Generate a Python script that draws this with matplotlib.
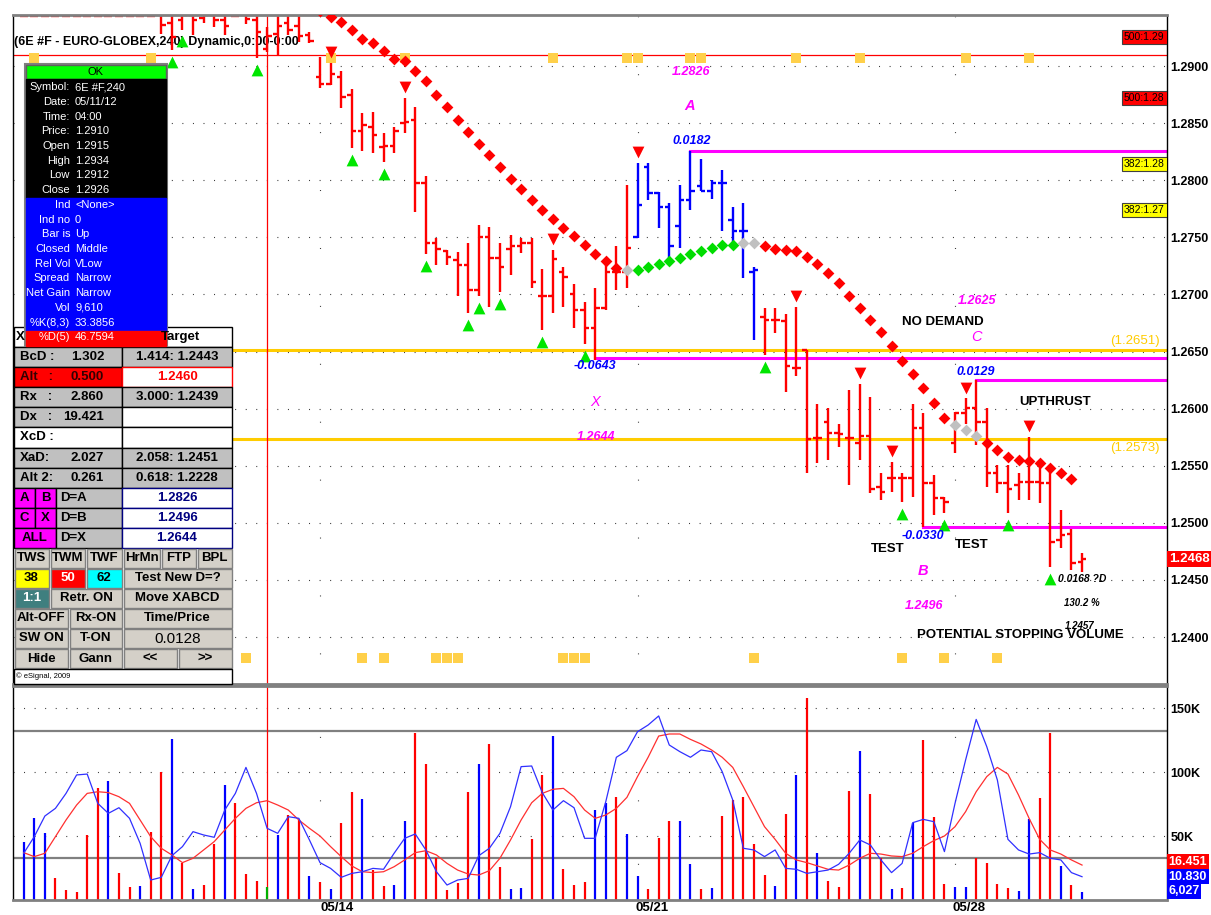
import numpy as np
import matplotlib
matplotlib.use("Agg")
import matplotlib.pyplot as plt
from matplotlib.patches import Rectangle

plt.rcParams['font.family'] = ['Liberation Sans', 'DejaVu Sans']
plt.rcParams['lines.scale_dashes'] = False

# ---------------- data (6E #F, 240 min bars) ----------------
opens = [
    1.2972, 1.2975, 1.2970, 1.2968, 1.2966, 1.2969, 1.2972, 1.2965, 1.2960, 1.2963,
    1.2966, 1.2964, 1.2962, 1.2950, 1.2938, 1.2940, 1.2945, 1.2942, 1.2945, 1.2940,
    1.2960, 1.2950, 1.2940, 1.2915, 1.2928, 1.2938, 1.2935, 1.2927, 1.2890, 1.2884,
    1.2890, 1.2875, 1.2843, 1.2847, 1.2829, 1.2830, 1.2850, 1.2853, 1.2798, 1.2745,
    1.2738, 1.2730, 1.2726, 1.2704, 1.2750, 1.2732, 1.2740, 1.2742, 1.2745, 1.2699,
    1.2699, 1.2720, 1.2700, 1.2686, 1.2671, 1.2688, 1.2720, 1.2720, 1.2750, 1.2812,
    1.2789, 1.2777, 1.2760, 1.2783, 1.2795, 1.2791, 1.2798, 1.2765, 1.2756, 1.2720,
    1.2680, 1.2678, 1.2677, 1.2636, 1.2651, 1.2574, 1.2588, 1.2579, 1.2574, 1.2570,
    1.2576, 1.2531, 1.2539, 1.2539, 1.2539, 1.2583, 1.2535, 1.2522, 1.2570, 1.2596,
    1.2601, 1.2588, 1.2544, 1.2535, 1.2533, 1.2536, 1.2536, 1.2535, 1.2485, 1.2490,
    1.2466]
highs = [
    1.2981, 1.2984, 1.2978, 1.2975, 1.2976, 1.2980, 1.2979, 1.2971, 1.2972, 1.2974,
    1.2973, 1.2970, 1.2968, 1.2962, 1.2958, 1.2955, 1.2958, 1.2960, 1.2962, 1.2960,
    1.2975, 1.2965, 1.2958, 1.2934, 1.2952, 1.2955, 1.2950, 1.2930, 1.2908, 1.2903,
    1.2896, 1.2880, 1.2859, 1.2860, 1.2841, 1.2847, 1.2872, 1.2864, 1.2804, 1.2749,
    1.2739, 1.2737, 1.2745, 1.2761, 1.2759, 1.2745, 1.2752, 1.2749, 1.2749, 1.2722,
    1.2739, 1.2724, 1.2709, 1.2693, 1.2706, 1.2727, 1.2742, 1.2796, 1.2815, 1.2815,
    1.2790, 1.2780, 1.2796, 1.2826, 1.2819, 1.2800, 1.2809, 1.2777, 1.2780, 1.2724,
    1.2688, 1.2688, 1.2683, 1.2689, 1.2651, 1.2604, 1.2601, 1.2587, 1.2616, 1.2622,
    1.2610, 1.2544, 1.2553, 1.2544, 1.2604, 1.2596, 1.2542, 1.2523, 1.2597, 1.2609,
    1.2625, 1.2601, 1.2551, 1.2551, 1.2544, 1.2575, 1.2552, 1.2549, 1.2511, 1.2495,
    1.2474]
lows = [
    1.2964, 1.2966, 1.2961, 1.2960, 1.2961, 1.2964, 1.2960, 1.2956, 1.2955, 1.2958,
    1.2957, 1.2955, 1.2952, 1.2928, 1.2914, 1.2932, 1.2927, 1.2938, 1.2934, 1.2927,
    1.2952, 1.2937, 1.2907, 1.2912, 1.2909, 1.2927, 1.2921, 1.2920, 1.2881, 1.2883,
    1.2863, 1.2828, 1.2826, 1.2824, 1.2816, 1.2824, 1.2841, 1.2772, 1.2735, 1.2726,
    1.2726, 1.2699, 1.2684, 1.2699, 1.2689, 1.2702, 1.2717, 1.2736, 1.2706, 1.2669,
    1.2684, 1.2689, 1.2671, 1.2657, 1.2643, 1.2686, 1.2704, 1.2706, 1.2749, 1.2783,
    1.2758, 1.2728, 1.2741, 1.2774, 1.2791, 1.2784, 1.2756, 1.2746, 1.2714, 1.2660,
    1.2647, 1.2666, 1.2615, 1.2629, 1.2544, 1.2552, 1.2555, 1.2566, 1.2533, 1.2555,
    1.2526, 1.2520, 1.2527, 1.2518, 1.2523, 1.2496, 1.2507, 1.2509, 1.2561, 1.2587,
    1.2568, 1.2531, 1.2526, 1.2509, 1.2520, 1.2520, 1.2517, 1.2461, 1.2478, 1.2459,
    1.2457]
closes = [
    1.2975, 1.2970, 1.2968, 1.2966, 1.2969, 1.2972, 1.2965, 1.2960, 1.2963, 1.2966,
    1.2964, 1.2962, 1.2956, 1.2936, 1.2925, 1.2945, 1.2940, 1.2945, 1.2940, 1.2935,
    1.2965, 1.2941, 1.2930, 1.2926, 1.2935, 1.2932, 1.2926, 1.2922, 1.2884, 1.2893,
    1.2873, 1.2843, 1.2848, 1.2840, 1.2830, 1.2843, 1.2851, 1.2798, 1.2745, 1.2740,
    1.2733, 1.2726, 1.2704, 1.2750, 1.2732, 1.2724, 1.2742, 1.2745, 1.2711, 1.2699,
    1.2731, 1.2715, 1.2686, 1.2671, 1.2688, 1.2720, 1.2720, 1.2741, 1.2778, 1.2789,
    1.2777, 1.2742, 1.2783, 1.2791, 1.2791, 1.2798, 1.2798, 1.2756, 1.2756, 1.2721,
    1.2678, 1.2678, 1.2637, 1.2636, 1.2573, 1.2574, 1.2579, 1.2578, 1.2574, 1.2576,
    1.2530, 1.2527, 1.2539, 1.2539, 1.2583, 1.2535, 1.2522, 1.2518, 1.2596, 1.2601,
    1.2588, 1.2544, 1.2535, 1.2530, 1.2536, 1.2536, 1.2535, 1.2483, 1.2489, 1.2465,
    1.2468]
blue_bars = list(range(58, 70))          # bars painted blue

# trailing stop dots (None = not shown), state: S = sell, B = buy, N = neutral
stop_dots = [None] * 28 + [
    1.2948, 1.2943, 1.2939, 1.2932, 1.2924, 1.2920, 1.2913, 1.2906, 1.2904, 1.2896,
    1.2887, 1.2875, 1.2864, 1.2853, 1.2842, 1.2832, 1.2822, 1.2812, 1.2801, 1.2792,
    1.2783, 1.2774, 1.2766, 1.2758, 1.2751, 1.2743, 1.2735, 1.2729, 1.2723, 1.2721,
    1.2721, 1.2724, 1.2727, 1.2729, 1.2732, 1.2735, 1.2738, 1.2741, 1.2743, 1.2743,
    1.2745, 1.2745, 1.2742, 1.2740, 1.2739, 1.2738, 1.2733, 1.2727, 1.2719, 1.2710,
    1.2699, 1.2688, 1.2678, 1.2667, 1.2655, 1.2642, 1.2630, 1.2618, 1.2605, 1.2592,
    1.2586, 1.2581, 1.2576, 1.2570, 1.2564, 1.2558, 1.2555, 1.2554, 1.2552, 1.2548,
    1.2544, 1.2538, None]
stop_state = ("." * 28 + "S" * 29 + "N" + "B" * 10 + "NN" + "S" * 18 + "NNN" + "S" * 9 + ".")

up_signals = [14, 15, 22, 31, 34, 38, 42, 43, 45, 49, 53, 70, 83, 87, 93, 97]
down_signals = [29, 36, 50, 58, 73, 79, 82, 89, 95]
time_marks_top = [1, 12, 29, 36, 50, 57, 58, 63, 64, 73, 79, 89, 95]
time_marks_bottom = [21, 32, 34, 39, 40, 41, 51, 52, 53, 69, 83, 87, 92]

volume_k = [
    45.5, 63.8, 52.0, 17.0, 7.8, 6.3, 50.8, 87.2, 93.0, 20.8,
    9.9, 10.9, 52.9, 100.3, 125.8, 28.6, 8.6, 11.7, 43.5, 89.6,
    75.5, 20.3, 15.1, 9.9, 50.8, 66.4, 62.5, 18.8, 13.8, 8.3,
    59.9, 84.6, 78.9, 23.4, 10.9, 11.7, 62.0, 130.2, 106.0, 32.6,
    7.8, 13.5, 84.6, 106.0, 121.9, 26.0, 8.3, 9.1, 47.4, 97.7,
    128.1, 24.2, 11.7, 13.8, 70.3, 75.5, 80.7, 51.6, 18.8, 8.6,
    48.2, 61.7, 61.7, 27.9, 8.6, 9.1, 65.6, 78.1, 80.7, 43.5,
    19.5, 10.9, 67.2, 97.7, 157.6, 36.5, 15.1, 9.9, 85.4, 116.7,
    82.8, 32.6, 8.3, 9.1, 60.4, 125.0, 64.6, 12.5, 10.4, 9.9,
    32.6, 28.6, 12.5, 9.1, 7.3, 63.0, 79.4, 130.7, 26.8, 11.7,
    6.0]
volume_side = ("UUUDDDDDUD" "DUDDUDUDDU" "DDDCUDDUDU" "DDUDDUUDDD" "DDDUDDUUDD"
               "UDDDUUDUUD" "DDUUDUDDDD" "DUDUDUDDDU" "DDUDUDDDUU" "DDDDUUDDUDU")
vol_fast = [
    36.5, 49.5, 65.6, 71.6, 83.3, 97.7, 98.4, 75.5, 67.7, 72.1,
    63.8, 44.3, 15.6, 17.7, 34.6, 41.7, 53.4, 50.8, 49.0, 70.3,
    83.3, 103.6, 83.3, 56.0, 52.1, 65.1, 63.8, 46.9, 29.2, 24.7,
    17.7, 20.8, 22.1, 24.7, 24.0, 36.5, 48.2, 51.6, 39.1, 22.1,
    11.7, 15.6, 16.9, 34.6, 40.4, 52.1, 72.9, 104.2, 104.7, 83.9,
    70.3, 77.6, 72.1, 48.2, 48.2, 76.8, 111.5, 116.7, 131.5, 136.7,
    143.8, 121.1, 115.9, 111.5, 117.2, 115.9, 100.3, 78.1, 40.4, 39.1,
    33.9, 39.1, 24.7, 24.0, 20.8, 22.1, 23.4, 27.9, 36.5, 46.9,
    43.0, 31.3, 21.4, 28.6, 60.4, 63.0, 61.2, 37.8, 75.5, 109.4,
    141.1, 119.8, 93.8, 47.4, 39.1, 35.9, 37.0, 32.6, 31.3, 21.4, 18.2]
vol_slow = [
    37.0, 33.9, 36.5, 49.5, 62.5, 74.2, 83.3, 84.6, 83.9, 80.7,
    75.5, 62.5, 49.5, 40.4, 35.2, 29.2, 32.6, 39.1, 45.6, 54.7,
    63.8, 71.6, 76.0, 77.6, 74.2, 70.3, 62.5, 56.0, 50.0, 41.7,
    33.9, 26.6, 22.1, 21.4, 22.1, 26.0, 31.3, 37.0, 38.5, 35.2,
    28.6, 23.4, 20.3, 19.5, 22.9, 32.6, 46.9, 62.5, 76.0, 83.3,
    86.5, 87.2, 80.7, 70.3, 63.8, 66.4, 71.6, 80.2, 96.4, 111.5,
    128.1, 129.7, 129.7, 125.5, 121.9, 117.2, 111.5, 103.6, 88.5, 72.9,
    57.3, 47.4, 36.5, 31.3, 29.2, 26.6, 24.0, 23.4, 27.3, 32.6,
    36.5, 35.9, 34.4, 33.9, 36.5, 41.7, 46.4, 50.0, 57.3, 69.0,
    84.6, 96.4, 103.6, 98.4, 82.0, 63.8, 47.4, 39.1, 35.9, 31.3, 27.3]
vol_bands_k = [132, 33]

week_starts = [28, 58, 88]
date_pos = [29.6, 59.4, 89.3]
date_labels = ['05/14', '05/21', '05/28']

cursor_bar = 23
cursor_price = 1.2910
yellow_levels = [1.2651, 1.2573]
# XABCD points: (label, start bar, level)
xabcd = [('X', 54, 1.2644), ('A', 63, 1.2826), ('B', 85, 1.2496), ('C', 90, 1.2625)]

# ---------------- figure ----------------
W, H = 1211, 915
fig = plt.figure(figsize=(W / 100, H / 100), dpi=100)


def rect(x0, y0, x1, y1):
    return [x0 / W, 1 - y1 / H, (x1 - x0) / W, (y1 - y0) / H]


ax = fig.add_axes(rect(13, 15, 1167, 684))
axv = fig.add_axes(rect(13, 686, 1167, 900), sharex=ax)
ov = fig.add_axes([0, 0, 1, 1], zorder=10)
ov.set_xlim(0, W)
ov.set_ylim(H, 0)
ov.axis('off')

n = len(opens)
idx = np.arange(n)
ymin, ymax = 1.23589, 1.29447
ax.set_xlim(-1.01, 108.03)
ax.set_ylim(ymin, ymax)
axv.set_ylim(0, 167.2)

RED, BLUE, MAG, GOLD = '#FF0000', '#0000FF', '#FF00FF', '#FFCC00'
dot = (0, (0.7, 6.9))

# grid
price_ticks = [1.2400, 1.2450, 1.2500, 1.2550, 1.2600, 1.2650, 1.2700, 1.2750, 1.2800, 1.2850, 1.2900]
for v in price_ticks:
    ax.axhline(v, color='#303030', lw=0.8, ls=dot, zorder=0.5)
for g in week_starts:
    ax.axvline(g, color='#303030', lw=0.8, ls=(20, (0.7, 41)), zorder=0.5)
    axv.axvline(g, color='#303030', lw=0.8, ls=(20, (0.7, 45)), zorder=0.5)
for v in [50, 100, 150]:
    axv.axhline(v, color='#303030', lw=0.8, ls=dot, zorder=0.5)
for v in vol_bands_k:
    axv.axhline(v, color='#808080', lw=1.6, zorder=0.6)

# levels
for lv in yellow_levels:
    ax.axhline(lv, color=GOLD, lw=2.2, zorder=1)
for name, start, lv in xabcd:
    ax.plot([start, 110], [lv, lv], color=MAG, lw=2.2, zorder=1.1)
ax.axhline(cursor_price, color=RED, lw=0.9, zorder=1.2)
ax.axvline(cursor_bar, color=RED, lw=0.9, zorder=1.2)
axv.axvline(cursor_bar, color=RED, lw=0.9, zorder=1.2)

# title
ax.text(14, 42, '(6E #F - EURO-GLOBEX,240) Dynamic,0:00-0:00', transform=ov.transData,
        fontsize=9, fontweight='bold', va='center', ha='left', zorder=1.5)

# time markers
ax.scatter(time_marks_top, [1.2907] * len(time_marks_top), marker='s', s=45,
           color='#FFD04A', linewidths=0, zorder=1.8)
ax.scatter(time_marks_bottom, [1.2382] * len(time_marks_bottom), marker='s', s=45,
           color='#FFD04A', linewidths=0, zorder=1.8)

# OHLC bars
cols = [BLUE if i in blue_bars else RED for i in range(n)]
ax.vlines(idx, lows, highs, colors=cols, lw=1.7, zorder=2)
ax.hlines(opens, idx - 0.42, idx, colors=cols, lw=1.7, zorder=2)
ax.hlines(closes, idx, idx + 0.42, colors=cols, lw=1.7, zorder=2)
# bars entirely above the visible range are flagged by a dash on the top edge
off_top = [i for i in range(n) if lows[i] > ymax]
ax.hlines([ymax - 0.00012] * len(off_top), [i - 0.38 for i in off_top],
          [i + 0.38 for i in off_top], colors=RED, lw=1.7, zorder=2)

# stop dots
dot_col = {'S': RED, 'B': '#00DD00', 'N': '#C0C0C0'}
for st, c in dot_col.items():
    xs = [i for i in range(n) if stop_state[i] == st and stop_dots[i] is not None]
    ax.scatter(xs, [stop_dots[i] for i in xs], marker='D', s=36, color=c,
               linewidths=0, zorder=3)

# signals
ax.scatter(up_signals, [lows[i] - 0.00105 for i in up_signals], marker='^', s=72,
           color='#00E600', linewidths=0, zorder=4)
ax.scatter(down_signals, [highs[i] + 0.00095 for i in down_signals], marker='v', s=72,
           color=RED, linewidths=0, zorder=4)

# annotations
bi = dict(fontweight='bold', fontstyle='italic', ha='center', va='center', zorder=5)
b = dict(fontweight='bold', ha='center', va='center', zorder=5)
ax.text(63.1, 1.28947, '1.2826', color=MAG, fontsize=9, **bi)
ax.text(62.9, 1.28650, 'A', color=MAG, fontsize=10.5, **bi)
ax.text(63.1, 1.28343, '0.0182', color=BLUE, fontsize=9, **bi)
ax.text(54.0, 1.26373, '-0.0643', color=BLUE, fontsize=9, **bi)
ax.text(54.0, 1.26058, 'X', color=MAG, fontsize=10.5, fontstyle='italic', ha='center', va='center')
ax.text(54.1, 1.25751, '1.2644', color=MAG, fontsize=9, **bi)
ax.text(90.1, 1.26942, '1.2625', color=MAG, fontsize=9, **bi)
ax.text(86.8, 1.26758, 'NO DEMAND', fontsize=9.5, **b)
ax.text(90.0, 1.26627, 'C', color=MAG, fontsize=10.5, fontstyle='italic', ha='center', va='center')
ax.text(90.0, 1.26320, '0.0129', color=BLUE, fontsize=9, **bi)
ax.text(97.5, 1.26058, 'UPTHRUST', fontsize=9.5, **b)
ax.text(85.0, 1.24884, '-0.0330', color=BLUE, fontsize=9, **bi)
ax.text(81.6, 1.24771, 'TEST', fontsize=9.5, **b)
ax.text(89.6, 1.24806, 'TEST', fontsize=9.5, **b)
ax.text(85.0, 1.24578, 'B', color=MAG, fontsize=10.5, **bi)
ax.text(85.1, 1.24271, '1.2496', color=MAG, fontsize=9, **bi)
ax.text(100.0, 1.24508, '0.0168 ?D', fontsize=7.5, **bi)
ax.text(100.0, 1.24298, '130.2 %', fontsize=7, **bi)
ax.text(99.8, 1.24096, '1.2457', fontsize=7, **bi)
ax.text(94.2, 1.24018, 'POTENTIAL STOPPING VOLUME', fontsize=9.5, **b)
ax.text(105.0, 1.26592, '(%.4f)' % yellow_levels[0], color=GOLD, fontsize=9.5, ha='center', va='center')
ax.text(105.0, 1.25655, '(%.4f)' % yellow_levels[1], color=GOLD, fontsize=9.5, ha='center', va='center')

for s, p, fc in [('500:1.29', 1.29254, RED), ('500:1.28', 1.28720, RED),
                 ('382:1.28', 1.28142, '#FFFF00'), ('382:1.27', 1.27739, '#FFFF00')]:
    ax.text(103.97, p, s, fontsize=7.5, ha='left', va='center', zorder=6, clip_on=True,
            bbox=dict(boxstyle='square,pad=0.2', fc=fc, ec='#404040', lw=0.8))

# price axis
ax.yaxis.tick_right()
ax.set_yticks(price_ticks)
ax.set_yticklabels(['%.4f' % v for v in price_ticks], fontweight='bold', fontsize=9)
ax.tick_params(axis='y', length=0, pad=2.5)
ax.tick_params(axis='x', length=0, labelbottom=False)
ax.text(1.0015, closes[-1], '%.4f' % closes[-1], transform=ax.get_yaxis_transform(),
        color='white', fontweight='bold', fontsize=9.5, ha='left', va='center', clip_on=False,
        bbox=dict(boxstyle='square,pad=0.15', fc=RED, ec='none'))

# volume panel
vcol = {'U': BLUE, 'D': RED, 'C': '#00B000'}
axv.vlines(idx, 0, volume_k, colors=[vcol[c] for c in volume_side], lw=1.6, zorder=2)
axv.plot(idx, vol_slow, color='#FF3030', lw=0.9, zorder=3)
axv.plot(idx, vol_fast, color='#3030FF', lw=0.9, zorder=3)
axv.yaxis.tick_right()
axv.set_yticks([50, 100, 150])
axv.set_yticklabels(['50K', '100K', '150K'], fontweight='bold', fontsize=9)
axv.tick_params(axis='y', length=0, pad=2.5)
axv.set_xticks(date_pos)
axv.set_xticklabels(date_labels, fontweight='bold', fontsize=9.5)
axv.tick_params(axis='x', length=0, pad=1.5)
for s, y, fc in [('16.451', 29.7, RED), ('10.830', 18.0, BLUE), ('6,027', 7.0, BLUE)]:
    axv.text(1.0015, y, s, transform=axv.get_yaxis_transform(), color='white',
             fontweight='bold', fontsize=9, ha='left', va='center', clip_on=False,
             bbox=dict(boxstyle='square,pad=0.12', fc=fc, ec='none'))

for a in (ax, axv):
    a.spines['top'].set_color('#808080')
    a.spines['top'].set_linewidth(2)
    a.spines['bottom'].set_color('#808080')
    a.spines['bottom'].set_linewidth(2)
    a.spines['left'].set_linewidth(1)
    a.spines['right'].set_linewidth(1)

# ---------------- left control table ----------------
GRAY, BTN = '#C0C0C0', '#D4D0C8'


def cell(x0, y0, x1, y1, fc, ec='#707070', lw=1.0):
    ov.add_patch(Rectangle((x0, y0), x1 - x0, y1 - y0, facecolor=fc, edgecolor=ec, lw=lw))


def txt(x, y, s, ha='center', color='black', size=9.5, weight='bold'):
    ov.text(x, y, s, ha=ha, va='center', color=color, fontsize=size, fontweight=weight)


rows = [347 + 20.1 * k for k in range(17)] + [684]
cell(14, 327, 232, 347, 'white', ec='black')
txt(16, 337, 'X', ha='left')
txt(161, 337, 'Target', ha='left')

stat_rows = [('BcD :', '1.302', '1.414: 1.2443'), ('Alt   :', '0.500', '1.2460'),
             ('Rx   :', '2.860', '3.000: 1.2439'), ('Dx   :', '19.421', ''),
             ('XcD :', '', ''), ('XaD:', '2.027', '2.058: 1.2451'),
             ('Alt 2:', '0.261', '0.618: 1.2228')]
for k, (lab, val, right) in enumerate(stat_rows):
    y0, y1 = rows[k], rows[k + 1]
    yc = (y0 + y1) / 2
    lfc = RED if k == 1 else ('white' if k == 4 else GRAY)
    rfc = 'white' if k in (1, 3, 4) else GRAY
    cell(14, y0, 122, y1, lfc, ec='black')
    cell(122, y0, 232, y1, rfc, ec=RED if k == 1 else 'black')
    tc = '#330000' if k == 1 else 'black'
    txt(20, yc, lab, ha='left', color=tc)
    txt(104, yc, val, ha='right', color=tc)
    txt(177, yc, right, color=RED if k == 1 else 'black')

abc_rows = [(['A', 'B'], 'D=A', '1.2826'), (['C', 'X'], 'D=B', '1.2496'), (['ALL'], 'D=X', '1.2644')]
for k, (boxes, lab, val) in enumerate(abc_rows):
    y0, y1 = rows[7 + k], rows[8 + k]
    yc = (y0 + y1) / 2
    if len(boxes) == 2:
        cell(14, y0, 35, y1, MAG, ec='black')
        cell(35, y0, 56, y1, MAG, ec='black')
        txt(24.5, yc, boxes[0])
        txt(45.5, yc, boxes[1])
    else:
        cell(14, y0, 56, y1, MAG, ec='black')
        txt(35, yc, boxes[0])
    cell(56, y0, 122, y1, GRAY, ec='black')
    txt(60, yc, lab, ha='left')
    cell(122, y0, 232, y1, 'white', ec='#000080')
    txt(177, yc, val, color='#000080')

buttons = [
    [(14, 49, 'TWS', BTN, 'black'), (50, 85, 'TWM', BTN, 'black'), (86, 122, 'TWF', BTN, 'black'),
     (123, 160, 'HrMn', BTN, 'black'), (161, 196, 'FTP', BTN, 'black'), (197, 232, 'BPL', BTN, 'black')],
    [(14, 49, '38', '#FFFF00', 'black'), (50, 85, '50', RED, 'white'), (86, 122, '62', '#00FFFF', 'black'),
     (123, 232, 'Test New D=?', BTN, 'black')],
    [(14, 49, '1:1', '#3F7F7F', 'white'), (50, 122, 'Retr. ON', BTN, 'black'),
     (123, 232, 'Move XABCD', BTN, 'black')],
    [(14, 68, 'Alt-OFF', BTN, 'black'), (69, 122, 'Rx-ON', BTN, 'black'),
     (123, 232, 'Time/Price', BTN, 'black')],
    [(14, 68, 'SW ON', BTN, 'black'), (69, 122, 'T-ON', BTN, 'black'),
     (123, 232, '0.0128', BTN, 'black')],
    [(14, 68, 'Hide', BTN, 'black'), (69, 122, 'Gann', BTN, 'black'),
     (123, 177, '<<', BTN, 'black'), (178, 232, '>>', BTN, 'black')],
]
for k, row in enumerate(buttons):
    y0, y1 = rows[10 + k], rows[11 + k]
    for x0, x1, s, fc, tc in row:
        cell(x0 + 0.5, y0 + 0.5, x1 - 0.5, y1 - 0.5, fc, ec='#808080')
        if s == '0.0128':
            txt((x0 + x1) / 2, (y0 + y1) / 2 + 1, s, color=tc, size=11, weight='normal')
        else:
            txt((x0 + x1) / 2, (y0 + y1) / 2, s, color=tc, size=9.5)
cell(14, rows[16], 232, 684, 'white', ec='black')
txt(16, (rows[16] + 684) / 2, '\u00a9 eSignal, 2009', ha='left', size=5.5, weight='normal')

# ---------------- info box ----------------
cell(25, 64, 167, 346, 'none', ec='#808080', lw=1.5)
cell(26, 65, 166, 79, '#00FF00', ec='#606060')
txt(96, 72, 'OK', size=8, weight='normal')
cell(26, 79, 166, 198, 'black', ec='black')
cell(26, 198, 166, 331, BLUE, ec=BLUE)
cell(26, 331, 166, 346, RED, ec=RED)
info_black = [('Symbol:', '6E #F,240'), ('Date:', '05/11/12'), ('Time:', '04:00'),
              ('Price:', '1.2910'), ('Open', '1.2915'), ('High', '1.2934'),
              ('Low', '1.2912'), ('Close', '1.2926')]
info_blue = [('Ind', '<None>'), ('Ind no', '0'), ('Bar is', 'Up'), ('Closed', 'Middle'),
             ('Rel Vol', 'VLow'), ('Spread', 'Narrow'), ('Net Gain', 'Narrow'),
             ('Vol', '9,610'), ('%K(8,3)', '33.3856'), ('%D(5)', '46.7594')]
for k, (lab, val) in enumerate(info_black + info_blue):
    y = 87.3 + 14.7 * k
    txt(70, y, lab, ha='right', color='white', size=8, weight='normal')
    txt(75, y, val, ha='left', color='white', size=8, weight='normal')

fig.savefig('out.png', dpi=100)
